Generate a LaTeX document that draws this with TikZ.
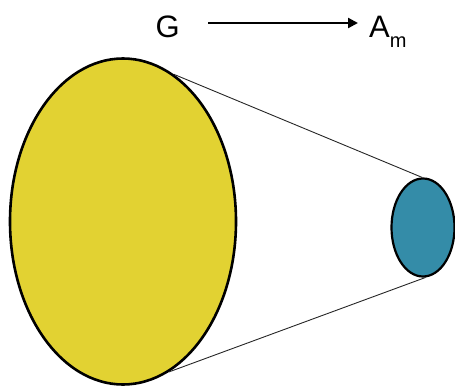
\documentclass[tikz,border=0pt]{standalone}
\usepackage{fontspec}
\setmainfont{Liberation Sans}
\usetikzlibrary{arrows.meta,shapes.geometric}
\definecolor{yellowfill}{RGB}{226,210,50}
\definecolor{bluefill}{RGB}{52,140,168}
\tikzset{
  big/.style={ellipse,draw=black,line width=2.6pt,fill=yellowfill,inner sep=0pt,minimum width=226pt,minimum height=326pt},
  small/.style={ellipse,draw=black,line width=2.2pt,fill=bluefill,inner sep=0pt,minimum width=63pt,minimum height=98pt},
  link/.style={draw=black!85,line width=0.9pt},
  arr/.style={line width=2.2pt,-{Triangle[length=10pt,width=10pt]}},
  lbl/.style={inner sep=0pt,font=\fontsize{31}{31}\selectfont}
}
\begin{document}
\begin{tikzpicture}[x=1pt,y=-1pt]
\useasboundingbox (0,0) rectangle (455,388);
\node[big] (Y) at (123,221.5) {};
\node[small] (B) at (423,227.5) {};
\draw[link] (Y.71.6) -- (B.91);
\draw[link] (Y.-73) -- (B.-87);
\node[lbl,anchor=base west] (G) at (155.5,37) {G};
\node[lbl,anchor=base west] (A) at (369,37) {A\raisebox{-10pt}{\fontsize{20}{20}\selectfont m}};
\draw[arr] ([xshift=28pt,yshift=14pt]G.base east) -- ([xshift=-11pt,yshift=14pt]A.base west);
\end{tikzpicture}
\end{document}
